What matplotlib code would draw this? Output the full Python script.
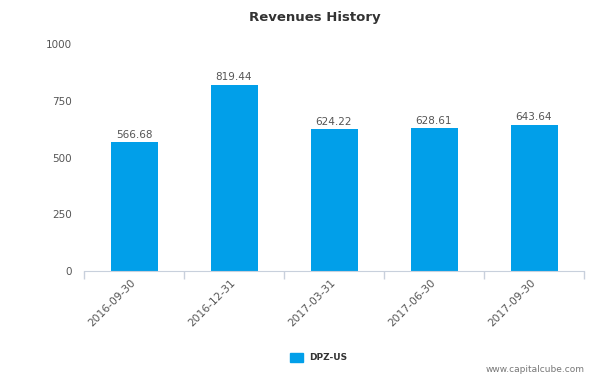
import matplotlib.pyplot as plt
import numpy as np

periods = ["2016-09-30", "2016-12-31", "2017-03-31", "2017-06-30", "2017-09-30"]
revenues = [566.68, 819.44, 624.22, 628.61, 643.64]
yticks = [0, 250, 500, 750, 1000]

bar_color = "#019fe9"
text_grey = "#555555"

fig = plt.figure(figsize=(5.93, 3.89), dpi=100)
ax = fig.add_axes([84 / 593, 1 - 271 / 389, 500 / 593, 227 / 389])

x = np.arange(len(periods))
bars = ax.bar(x, revenues, width=0.47, color=bar_color, zorder=2)
for xi, v in zip(x, revenues):
    ax.text(xi, v + 12, f"{v:.2f}", ha="center", va="bottom", fontsize=7.5, color=text_grey)

ax.set_xlim(-0.5, len(periods) - 0.5)
ax.set_ylim(0, 1000)
ax.set_yticks(yticks)
ax.set_yticklabels([str(t) for t in yticks], fontsize=7.5, color=text_grey)
ax.tick_params(axis="y", length=0, pad=9)

# category boundary ticks
ax.set_xticks(np.arange(-0.5, len(periods)), minor=False)
ax.set_xticklabels([])
ax.tick_params(axis="x", length=6, color="#c8d0dc", width=1)
for xi, lab in zip(x, periods):
    ax.text(xi - 0.04, -30, lab, rotation=45, ha="right", va="top", rotation_mode="anchor",
            fontsize=7.7, color=text_grey, transform=ax.transData)

for s in ["top", "right", "left"]:
    ax.spines[s].set_visible(False)
ax.spines["bottom"].set_color("#c8d0dc")

fig.text(315 / 593, 1 - 18 / 389, "Revenues History", ha="center", va="center",
         fontsize=9.5, fontweight="bold", color="#333333")

# legend
fig.patches.append(plt.Rectangle((290 / 593, 1 - 362 / 389), 13 / 593, 9 / 389,
                                 transform=fig.transFigure, color=bar_color))
fig.text(309 / 593, 1 - 358 / 389, "DPZ-US", ha="left", va="center",
         fontsize=6.5, fontweight="bold", color="#333333")

fig.text(585 / 593, 1 - 370 / 389, "www.capitalcube.com", ha="right", va="center",
         fontsize=6.5, color="#777777")

fig.savefig("out.png", dpi=100)
